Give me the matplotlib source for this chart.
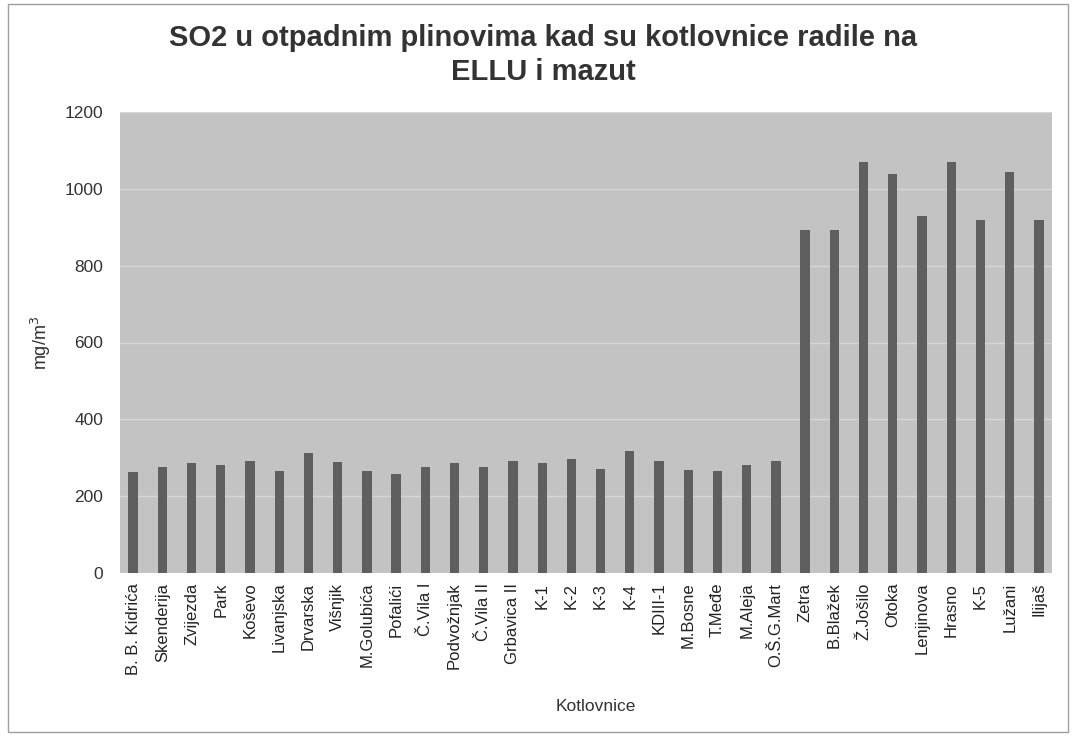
import numpy as np
import matplotlib
matplotlib.use('Agg')
import matplotlib.pyplot as plt
from matplotlib.patches import Rectangle

plt.rcParams['font.family'] = ['Liberation Sans', 'DejaVu Sans']

# podaci ocitani s grafikona
kotlovnice = ['B. B. Kidrića', 'Skenderija', 'Zvijezda', 'Park', 'Koševo', 'Livanjska',
              'Drvarska', 'Višnjik', 'M.Golubića', 'Pofalići', 'Č.Vila I', 'Podvožnjak',
              'Č.Vila II', 'Grbavica II', 'K-1', 'K-2', 'K-3', 'K-4', 'KDIII-1', 'M.Bosne',
              'T.Međe', 'M.Aleja', 'O.Š.G.Mart', 'Zetra', 'B.Blažek', 'Ž.Jošilo', 'Otoka',
              'Lenjinova', 'Hrasno', 'K-5', 'Lužani', 'Ilijaš']
so2 = [264, 277, 287, 282, 292, 265, 313, 288, 265, 259, 277, 287,
       277, 292, 287, 297, 270, 318, 292, 269, 266, 282, 292,
       893, 893, 1071, 1038, 929, 1071, 919, 1045, 919]
y_ticks = [0, 200, 400, 600, 800, 1000, 1200]

fig = plt.figure(figsize=(10.73, 7.37), dpi=100)
ax = fig.add_axes([120 / 1073, 1 - 573 / 737, 932 / 1073, 461 / 737])

# okvir oko cijelog grafikona
fig.patches.append(Rectangle((8 / 1073, 5 / 737), 1060 / 1073, 728 / 737,
                             transform=fig.transFigure, fill=False,
                             edgecolor='#a0a0a0', linewidth=1.0))

x = np.arange(len(kotlovnice))
ax.set_facecolor('#c3c3c3')
ax.bar(x, so2, width=0.32, color='#5f5f5f', zorder=3)

ax.set_ylim(0, 1200)
ax.set_xlim(-0.45, len(kotlovnice) - 0.55)
ax.set_yticks(y_ticks)
ax.set_yticklabels([str(v) for v in y_ticks], fontsize=12.5, color='#333333')
ax.yaxis.grid(True, color='#d6d6d6', linewidth=1.0, zorder=0)
ax.set_xticks(x)
ax.set_xticklabels(kotlovnice, rotation=90, fontsize=12, color='#222222')
ax.tick_params(axis='y', length=0, pad=12)
ax.tick_params(axis='x', length=0, pad=7)
for s in ax.spines.values():
    s.set_visible(False)

ax.set_ylabel('mg/m$^3$', fontsize=13, color='#333333')
ax.set_xlabel('Kotlovnice', fontsize=12.5, color='#333333')
ax.xaxis.set_label_coords(0.51, -(699 - 573) / 461)
ax.yaxis.set_label_coords(-(120 - 53) / 932, 0.5)

fig.text(0.506, 1 - 38 / 737, 'SO2 u otpadnim plinovima kad su kotlovnice radile na',
         ha='center', va='center', fontsize=21, fontweight='bold', color='#333333')
fig.text(0.506, 1 - 72 / 737, 'ELLU i mazut',
         ha='center', va='center', fontsize=21, fontweight='bold', color='#333333')

fig.savefig('out.png', dpi=100)
